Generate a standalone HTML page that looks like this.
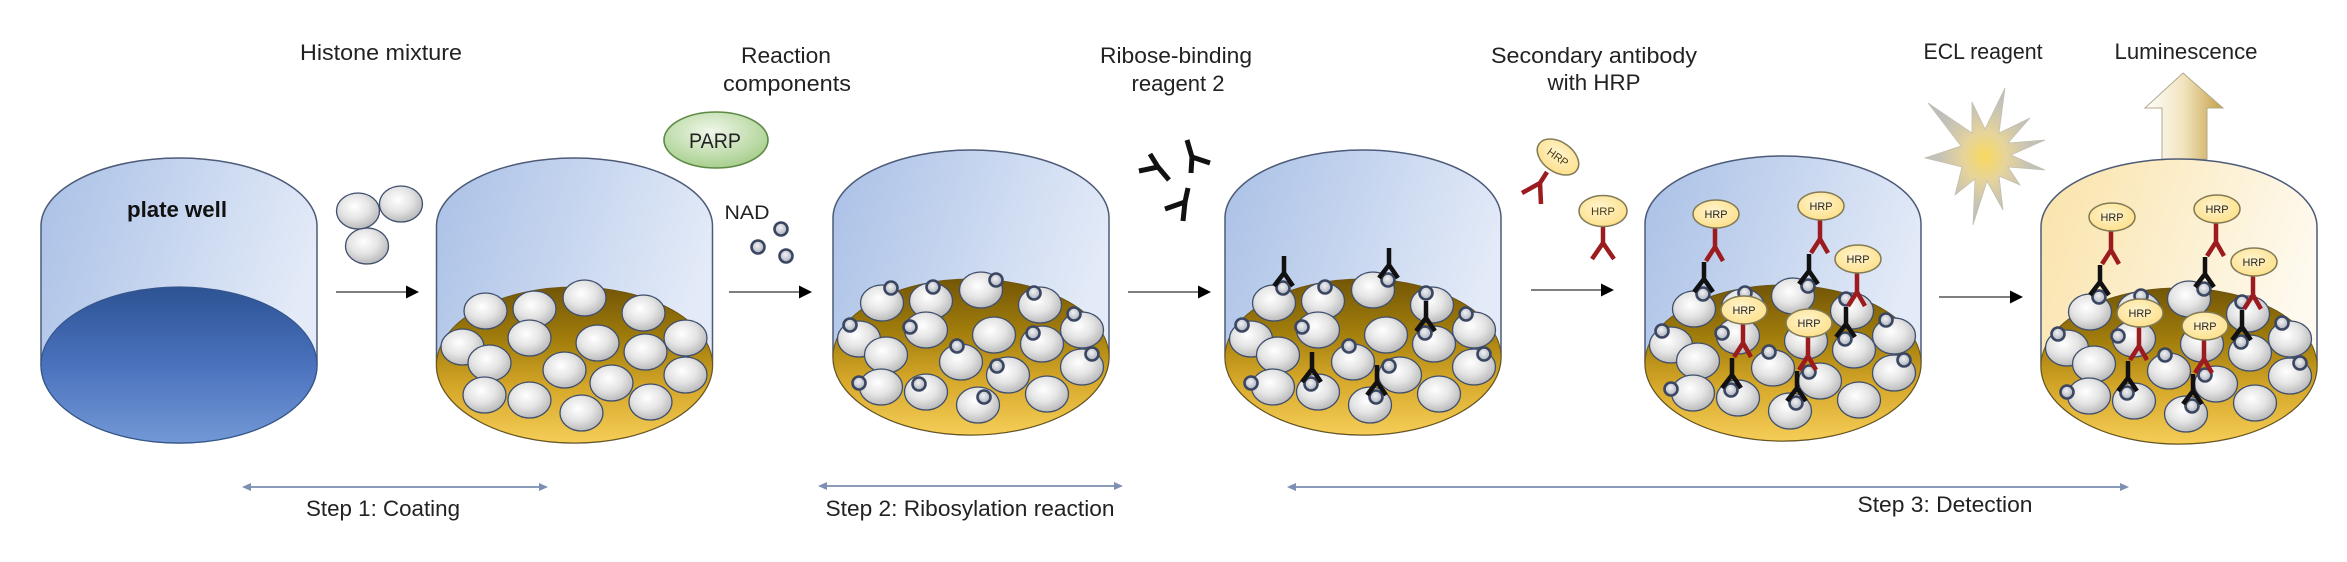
<!DOCTYPE html>
<html>
<head>
<meta charset="utf-8">
<style>
html,body{margin:0;padding:0;background:#ffffff;}
svg{display:block;}
text{font-family:"Liberation Sans",Arial,sans-serif;fill:#222;}
</style>
</head>
<body>
<svg xmlns="http://www.w3.org/2000/svg" width="2347" height="562" viewBox="0 0 2347 562">
<defs>
  <linearGradient id="gw" x1="0" y1="0" x2="1" y2="0.35">
    <stop offset="0" stop-color="#a9c0e6"/>
    <stop offset="1" stop-color="#e4ebf8"/>
  </linearGradient>
  <linearGradient id="gw6" x1="0" y1="0" x2="1" y2="0.35">
    <stop offset="0" stop-color="#fae3a9"/>
    <stop offset="1" stop-color="#fefaf0"/>
  </linearGradient>
  <linearGradient id="gb" x1="0" y1="0" x2="0" y2="1">
    <stop offset="0" stop-color="#2d5394"/>
    <stop offset="0.5" stop-color="#4a72bd"/>
    <stop offset="1" stop-color="#7398d6"/>
  </linearGradient>
  <linearGradient id="gg" x1="0" y1="0" x2="0" y2="1">
    <stop offset="0" stop-color="#735606"/>
    <stop offset="0.35" stop-color="#a47f0c"/>
    <stop offset="0.65" stop-color="#d6a82a"/>
    <stop offset="1" stop-color="#f5cd57"/>
  </linearGradient>
  <radialGradient id="gs" cx="0.42" cy="0.38" r="0.68">
    <stop offset="0" stop-color="#ffffff"/>
    <stop offset="0.5" stop-color="#e4e4e4"/>
    <stop offset="1" stop-color="#b2b2b4"/>
  </radialGradient>
  <radialGradient id="gd" cx="0.45" cy="0.4" r="0.6">
    <stop offset="0" stop-color="#f2f2f2"/>
    <stop offset="1" stop-color="#a9afbd"/>
  </radialGradient>
  <radialGradient id="gh" cx="0.45" cy="0.4" r="0.65">
    <stop offset="0" stop-color="#fff4cf"/>
    <stop offset="1" stop-color="#fddf86"/>
  </radialGradient>
  <radialGradient id="gp" cx="0.45" cy="0.35" r="0.7">
    <stop offset="0" stop-color="#f0f7ea"/>
    <stop offset="1" stop-color="#a2cc86"/>
  </radialGradient>
  <radialGradient id="gstar" cx="0.5" cy="0.5" r="0.5">
    <stop offset="0" stop-color="#f9d95e"/>
    <stop offset="0.35" stop-color="#e6d49a"/>
    <stop offset="0.75" stop-color="#c6c2b6"/>
    <stop offset="1" stop-color="#bdbdbd"/>
  </radialGradient>
  <linearGradient id="gar" x1="0" y1="0" x2="1" y2="0">
    <stop offset="0" stop-color="#ffffff"/>
    <stop offset="0.5" stop-color="#f1e3bd"/>
    <stop offset="1" stop-color="#c59f45"/>
  </linearGradient>

  <path id="wellp" d="M-138,68 A138,68 0 0 1 138,68 L138,207 A138,78 0 0 1 -138,207 Z"/>
  <ellipse id="sp" rx="21.5" ry="18" fill="url(#gs)" stroke="#3e4e6c" stroke-width="1.3"/>
  <circle id="nd" r="6.5" fill="url(#gd)" stroke="#3b4762" stroke-width="2.6"/>

  <g id="L0">
    <use href="#sp" x="10" y="140"/>
    <use href="#sp" x="-40" y="151"/>
    <use href="#sp" x="-89" y="153"/>
    <use href="#sp" x="69" y="155"/>
    <use href="#sp" x="-45" y="180"/>
    <use href="#sp" x="111" y="180"/>
    <use href="#sp" x="23" y="185"/>
    <use href="#sp" x="-112" y="189"/>
    <use href="#sp" x="71" y="194"/>
    <use href="#sp" x="-85" y="205"/>
    <use href="#sp" x="-10" y="212"/>
    <use href="#sp" x="111" y="217"/>
    <use href="#sp" x="37" y="225"/>
    <use href="#sp" x="-90" y="237"/>
    <use href="#sp" x="-45" y="242"/>
    <use href="#sp" x="76" y="244"/>
    <use href="#sp" x="7" y="255"/>
  </g>
  <g id="L1">
    <use href="#L0"/>
    <use href="#nd" x="25" y="130"/>
    <use href="#nd" x="-38" y="137"/>
    <use href="#nd" x="-80" y="138"/>
    <use href="#nd" x="63" y="143"/>
    <use href="#nd" x="-61" y="177"/>
    <use href="#nd" x="103" y="164"/>
    <use href="#nd" x="-121" y="175"/>
    <use href="#nd" x="62" y="183"/>
    <use href="#nd" x="-14" y="196"/>
    <use href="#nd" x="121" y="204"/>
    <use href="#nd" x="26" y="216"/>
    <use href="#nd" x="-112" y="233"/>
    <use href="#nd" x="-52" y="234"/>
    <use href="#nd" x="13" y="247"/>
  </g>
  <path id="bab" d="M1,-32 L1,-15 M-9,-2 L1,-15 L10,-2" stroke="#111" stroke-width="4.5" fill="none"/>
  <g id="redc">
    <path d="M3,-33 L12,-47 L20,-33 M12,-47 L12,-66" stroke="#9b1b1e" stroke-width="4.5" fill="none"/>
    <ellipse cx="13" cy="-80" rx="23" ry="14" fill="url(#gh)" stroke="#827b58" stroke-width="1.5"/>
  </g>
  <g id="ABS">
    <use href="#bab" x="-80" y="138"/>
    <use href="#bab" x="25" y="130"/>
    <use href="#bab" x="62" y="183"/>
    <use href="#bab" x="-52" y="234"/>
    <use href="#bab" x="13" y="247"/>
  </g>
  <g id="CHS">
    <use href="#redc" x="-80" y="138"/>
    <use href="#redc" x="25" y="130"/>
    <use href="#redc" x="62" y="183"/>
    <use href="#redc" x="-52" y="234"/>
    <use href="#redc" x="13" y="247"/>
  </g>
</defs>

<rect width="2347" height="562" fill="#ffffff"/>

<!-- Top labels -->
<text x="381" y="60" font-size="22" text-anchor="middle" textLength="162" lengthAdjust="spacingAndGlyphs">Histone mixture</text>
<text x="786" y="63" font-size="22" text-anchor="middle" textLength="90" lengthAdjust="spacingAndGlyphs">Reaction</text>
<text x="787" y="91" font-size="22" text-anchor="middle" textLength="128" lengthAdjust="spacingAndGlyphs">components</text>
<text x="1176" y="63" font-size="22" text-anchor="middle" textLength="152" lengthAdjust="spacingAndGlyphs">Ribose-binding</text>
<text x="1178" y="91" font-size="22" text-anchor="middle" textLength="93" lengthAdjust="spacingAndGlyphs">reagent 2</text>
<text x="1594" y="63" font-size="22" text-anchor="middle" textLength="206" lengthAdjust="spacingAndGlyphs">Secondary antibody</text>
<text x="1594" y="90" font-size="22" text-anchor="middle" textLength="93" lengthAdjust="spacingAndGlyphs">with HRP</text>
<text x="1983" y="59" font-size="22" text-anchor="middle" textLength="119" lengthAdjust="spacingAndGlyphs">ECL reagent</text>
<text x="2186" y="59" font-size="22" text-anchor="middle" textLength="143" lengthAdjust="spacingAndGlyphs">Luminescence</text>

<!-- Well 1 -->
<g transform="translate(179,158)">
  <use href="#wellp" fill="url(#gw)" stroke="#4d5b78" stroke-width="1.5"/>
  <ellipse cx="0" cy="207" rx="138" ry="78" fill="url(#gb)" stroke="#34568c" stroke-width="1.2"/>
</g>
<text x="177" y="217" font-size="22" font-weight="bold" text-anchor="middle" textLength="100" lengthAdjust="spacingAndGlyphs" style="fill:#111">plate well</text>

<!-- histone trio -->
<use href="#sp" x="401" y="204"/>
<use href="#sp" x="367" y="246"/>
<use href="#sp" x="358" y="211"/>

<!-- Well 2 -->
<g transform="translate(574.5,158)">
  <use href="#wellp" fill="url(#gw)" stroke="#4d5b78" stroke-width="1.5"/>
  <ellipse cx="0" cy="207" rx="138" ry="78" fill="url(#gg)" stroke="#6d5512" stroke-width="1"/>
  <use href="#L0"/>
</g>

<!-- PARP / NAD -->
<ellipse cx="716" cy="140" rx="52" ry="28" fill="url(#gp)" stroke="#5c8a45" stroke-width="1.6"/>
<text x="715" y="148" font-size="21" text-anchor="middle" textLength="52" lengthAdjust="spacingAndGlyphs">PARP</text>
<text x="747" y="219" font-size="19" text-anchor="middle" textLength="45" lengthAdjust="spacingAndGlyphs">NAD</text>
<use href="#nd" x="781" y="229"/>
<use href="#nd" x="758" y="247"/>
<use href="#nd" x="786" y="256"/>

<!-- Well 3 -->
<g transform="translate(971,150)">
  <use href="#wellp" fill="url(#gw)" stroke="#4d5b78" stroke-width="1.5"/>
  <ellipse cx="0" cy="207" rx="138" ry="78" fill="url(#gg)" stroke="#6d5512" stroke-width="1"/>
  <use href="#L1"/>
</g>

<!-- floating ribose-binding reagent -->
<g stroke="#111" stroke-width="5" fill="none">
  <path d="M1169,180 L1158,167 L1150,154 M1158,167 L1139,171"/>
  <path d="M1187,140 L1192,157 L1191,173 M1192,157 L1210,163"/>
  <path d="M1188,188 L1185,202 L1183,221 M1185,202 L1165,209"/>
</g>

<!-- Well 4 -->
<g transform="translate(1363,150)">
  <use href="#wellp" fill="url(#gw)" stroke="#4d5b78" stroke-width="1.5"/>
  <ellipse cx="0" cy="207" rx="138" ry="78" fill="url(#gg)" stroke="#6d5512" stroke-width="1"/>
  <use href="#L1"/>
  <use href="#ABS"/>
</g>

<!-- floating secondary antibodies -->
<path d="M1547,172 L1540,183 L1522,193 M1540,183 L1541,204" stroke="#9b1b1e" stroke-width="4.5" fill="none"/>
<g transform="translate(1558,157) rotate(35)">
  <ellipse cx="0" cy="0" rx="23" ry="15" fill="url(#gh)" stroke="#827b58" stroke-width="1.5"/>
  <text x="0" y="4" font-size="11" text-anchor="middle" textLength="23" lengthAdjust="spacingAndGlyphs" style="fill:#4a3e18">HRP</text>
</g>
<path d="M1603,226 L1603,243 L1592,259 M1603,243 L1614,259" stroke="#9b1b1e" stroke-width="4.5" fill="none"/>
<ellipse cx="1603" cy="211" rx="24" ry="15.5" fill="url(#gh)" stroke="#827b58" stroke-width="1.5"/>
<text x="1603" y="215" font-size="11" text-anchor="middle" textLength="24" lengthAdjust="spacingAndGlyphs" style="fill:#4a3e18">HRP</text>

<!-- Well 5 -->
<g transform="translate(1783,156)">
  <use href="#wellp" fill="url(#gw)" stroke="#4d5b78" stroke-width="1.5"/>
  <ellipse cx="0" cy="207" rx="138" ry="78" fill="url(#gg)" stroke="#6d5512" stroke-width="1"/>
  <use href="#L1"/>
  <use href="#ABS"/>
  <use href="#CHS"/>
  <g font-size="11" text-anchor="middle" style="fill:#4a3e18">
    <text x="-67" y="62" textLength="23" lengthAdjust="spacingAndGlyphs">HRP</text>
    <text x="38" y="54" textLength="23" lengthAdjust="spacingAndGlyphs">HRP</text>
    <text x="75" y="107" textLength="23" lengthAdjust="spacingAndGlyphs">HRP</text>
    <text x="-39" y="158" textLength="23" lengthAdjust="spacingAndGlyphs">HRP</text>
    <text x="26" y="171" textLength="23" lengthAdjust="spacingAndGlyphs">HRP</text>
  </g>
</g>

<!-- starburst -->
<polygon points="1928,103 1972,133 1972,102 1985,129 2005,88 1999,133 2030,118 2008,143 2045,140 2011,155 2045,170 2008,167 2020,185 1999,176 2003,210 1987,181 1973,225 1975,179 1955,195 1962,167 1925,158 1961,146" fill="url(#gstar)" stroke="#c4c0b0" stroke-width="0.8"/>

<!-- luminescence arrow -->
<polygon points="2183,73 2223,108 2207,108 2207,159 2162,159 2162,108 2145,108" fill="url(#gar)" stroke="#b0a88e" stroke-width="1"/>

<!-- Well 6 -->
<g transform="translate(2179,159)">
  <use href="#wellp" fill="url(#gw6)" stroke="#4d5b78" stroke-width="1.5"/>
  <ellipse cx="0" cy="207" rx="138" ry="78" fill="url(#gg)" stroke="#6d5512" stroke-width="1"/>
  <use href="#L1"/>
  <use href="#ABS"/>
  <use href="#CHS"/>
  <g font-size="11" text-anchor="middle" style="fill:#4a3e18">
    <text x="-67" y="62" textLength="23" lengthAdjust="spacingAndGlyphs">HRP</text>
    <text x="38" y="54" textLength="23" lengthAdjust="spacingAndGlyphs">HRP</text>
    <text x="75" y="107" textLength="23" lengthAdjust="spacingAndGlyphs">HRP</text>
    <text x="-39" y="158" textLength="23" lengthAdjust="spacingAndGlyphs">HRP</text>
    <text x="26" y="171" textLength="23" lengthAdjust="spacingAndGlyphs">HRP</text>
  </g>
</g>

<!-- process arrows -->
<g stroke="#555" stroke-width="1.6">
  <line x1="336" y1="292" x2="408" y2="292"/>
  <line x1="729" y1="292" x2="801" y2="292"/>
  <line x1="1128" y1="292" x2="1200" y2="292"/>
  <line x1="1531" y1="290" x2="1603" y2="290"/>
  <line x1="1939" y1="297" x2="2012" y2="297"/>
</g>
<g fill="#000">
  <polygon points="419,292 406,285.5 406,298.5"/>
  <polygon points="812,292 799,285.5 799,298.5"/>
  <polygon points="1211,292 1198,285.5 1198,298.5"/>
  <polygon points="1614,290 1601,283.5 1601,296.5"/>
  <polygon points="2023,297 2010,290.5 2010,303.5"/>
</g>

<!-- step arrows -->
<g stroke="#8a9aba" stroke-width="2">
  <line x1="249" y1="487" x2="541" y2="487"/>
  <line x1="825" y1="486" x2="1116" y2="486"/>
  <line x1="1294" y1="487" x2="2122" y2="487"/>
</g>
<g fill="#7d8fb2">
  <polygon points="242,487 251,483 251,491"/>
  <polygon points="548,487 539,483 539,491"/>
  <polygon points="818,486 827,482 827,490"/>
  <polygon points="1123,486 1114,482 1114,490"/>
  <polygon points="1287,487 1296,483 1296,491"/>
  <polygon points="2129,487 2120,483 2120,491"/>
</g>
<text x="383" y="516" font-size="22" text-anchor="middle" textLength="154" lengthAdjust="spacingAndGlyphs">Step 1: Coating</text>
<text x="970" y="516" font-size="22" text-anchor="middle" textLength="289" lengthAdjust="spacingAndGlyphs">Step 2: Ribosylation reaction</text>
<text x="1945" y="512" font-size="22" text-anchor="middle" textLength="175" lengthAdjust="spacingAndGlyphs">Step 3: Detection</text>
</svg>
</body>
</html>
